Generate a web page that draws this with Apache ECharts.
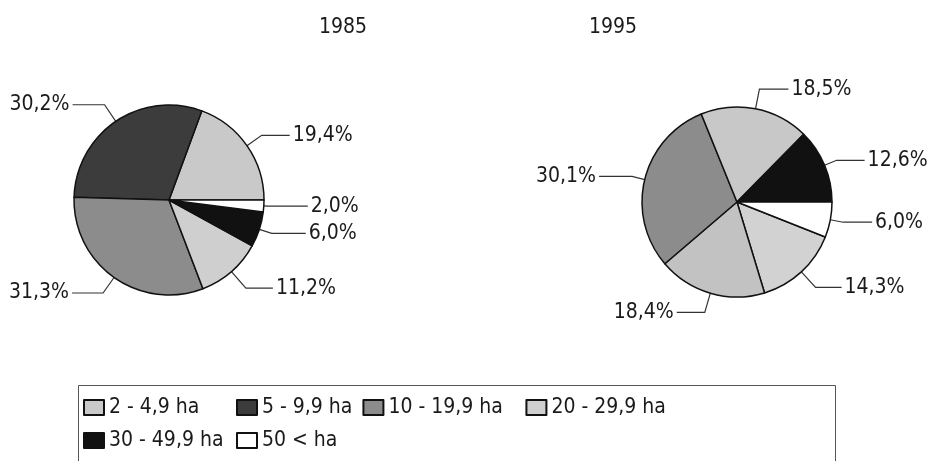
<!DOCTYPE html>
<html>
<head>
<meta charset="utf-8">
<script src="https://cdn.jsdelivr.net/npm/echarts@6/dist/echarts.min.js"></script>
<style>
  html, body { margin: 0; padding: 0; background: #fff; }
  #chart { width: 934px; height: 461px; }
</style>
</head>
<body>
<div id="chart"></div>
<script>
const categories = ['2 - 4,9 ha', '5 - 9,9 ha', '10 - 19,9 ha', '20 - 29,9 ha', '30 - 49,9 ha', '50 < ha'];
const years = ['1985', '1995'];
const values1985 = [19.4, 30.2, 31.3, 11.2, 6.0, 2.0];
const values1995 = [14.3, 18.4, 30.1, 18.5, 12.6, 6.0];

const font = '"DejaVu Sans Condensed", "Liberation Sans Narrow", sans-serif';
const colors1985 = ['#c9c9c9', '#3c3c3c', '#8c8c8c', '#cfcfcf', '#111111', '#ffffff'];
const colors1995 = ['#d2d2d2', '#c2c2c2', '#8c8c8c', '#c8c8c8', '#111111', '#ffffff'];
// label line lengths per slice [length, length2]
const lines1985 = [[18, 28], [20, 32], [19, 31], [22, 27], [13, 34], [4, 40]];
const lines1995 = [[21, 26], [20, 28], [13, 33], [20, 29], [13, 28], [13, 29]];
// legend column widths (text part)
const legendWidths = [117, 90, 127, 125, 117, 90];

function fmt(v) {
    return v.toFixed(1).replace('.', ',') + '%';
}

function buildData(values, cols, lines) {
    return values.map((v, i) => ({
        name: categories[i],
        value: v,
        itemStyle: { color: cols[i] },
        labelLine: { length: lines[i][0], length2: lines[i][1] }
    }));
}

const chartDom = document.getElementById('chart');
const myChart = echarts.init(chartDom);

const pieBase = {
    type: 'pie',
    radius: 95,
    avoidLabelOverlap: false,
    itemStyle: { borderColor: '#111', borderWidth: 1.5 },
    label: {
        show: true,
        position: 'outside',
        formatter: (p) => fmt(p.value),
        fontFamily: font,
        fontSize: 21,
        color: '#1a1a1a',
        distanceToLabelLine: 3
    },
    labelLine: {
        show: true,
        lineStyle: { color: '#333', width: 1.2 }
    },
    emphasis: { disabled: true }
};

const titleStyle = { fontFamily: font, fontSize: 21, fontWeight: 'normal', color: '#1a1a1a' };

const option = {
    backgroundColor: '#fff',
    animation: false,
    title: [
        { text: years[0], left: 338, top: 12, textAlign: 'center', textStyle: titleStyle },
        { text: years[1], left: 608, top: 12, textAlign: 'center', textStyle: titleStyle }
    ],
    legend: {
        data: categories.map((c, i) => ({ name: c, textStyle: { width: legendWidths[i] } })),
        left: 83,
        top: 396,
        width: 600,
        padding: 0,
        itemWidth: 20,
        itemHeight: 15,
        itemGap: 10,
        icon: 'rect',
        textStyle: {
            fontFamily: font,
            fontSize: 21,
            color: '#1a1a1a',
            lineHeight: 23
        }
    },
    graphic: [{
        type: 'rect',
        shape: { x: 78.5, y: 385.5, width: 757, height: 100 },
        style: { fill: 'none', stroke: '#555', lineWidth: 1 },
        silent: true
    }],
    series: [
        Object.assign({}, pieBase, {
            name: years[0],
            center: [169, 200],
            startAngle: 0,
            clockwise: false,
            data: buildData(values1985, colors1985, lines1985)
        }),
        Object.assign({}, pieBase, {
            name: years[1],
            center: [737, 202],
            startAngle: -21.6,
            clockwise: true,
            data: buildData(values1995, colors1995, lines1995)
        })
    ]
};

myChart.setOption(option);
</script>
</body>
</html>
